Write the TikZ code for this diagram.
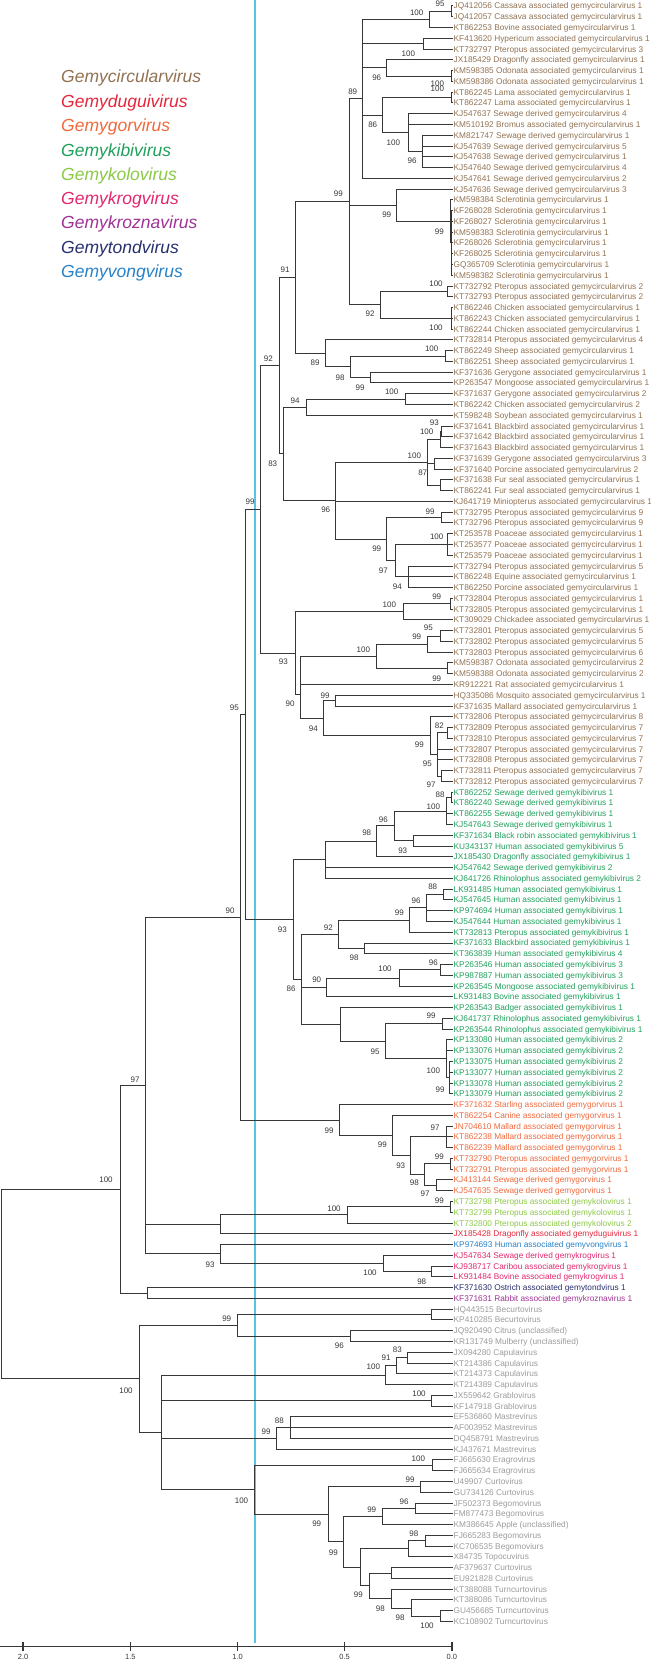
\documentclass[tikz,border=0pt]{standalone}
\usepackage{fontspec}
\setmainfont{Liberation Sans}
\usetikzlibrary{calc}
\definecolor{brc}{RGB}{55,55,55}
\definecolor{cCirc}{RGB}{145,114,82}
\definecolor{cDug}{RGB}{228,38,60}
\definecolor{cGor}{RGB}{240,105,60}
\definecolor{cKibi}{RGB}{32,160,92}
\definecolor{cKolo}{RGB}{140,200,70}
\definecolor{cKrog}{RGB}{225,40,110}
\definecolor{cKrz}{RGB}{160,50,150}
\definecolor{cTond}{RGB}{40,48,110}
\definecolor{cVong}{RGB}{40,130,200}
\definecolor{cOut}{RGB}{155,155,155}
\definecolor{cyanl}{RGB}{90,195,225}
\tikzset{
  br/.style={line width=1pt, draw=brc, line cap=rect},
  lab/.style={anchor=base west, inner sep=0pt, xshift=1.5pt, yshift=-3pt, font=\fontsize{8.3}{9}\selectfont},
  bsl/.style={inner sep=0pt, text=brc, font=\fontsize{8}{9}\selectfont},
  leg/.style={anchor=base west, inner sep=0pt, font=\fontsize{17.5}{19}\selectfont\itshape},
  scl/.style={inner sep=0pt, text=brc, font=\fontsize{7.5}{8}\selectfont}
}
\newcommand\leaf[3]{\coordinate (L#1) at (452,{6+(#1-1)*10.77}); \node[lab,text=#2] (T#1) at (L#1) {#3};}
\newcommand\clade[3]{%
  \gdef\cfirst{}%
  \foreach \ch in {#3}{\ifx\cfirst\empty\xdef\cfirst{\ch}\fi\xdef\clast{\ch}}%
  \path let \p1=(\cfirst), \p2=(\clast) in ({#2},{0.5*\y1+0.5*\y2}) coordinate (#1);
  \draw[br] (#1 |- \cfirst) -- (#1 |- \clast);
  \foreach \ch in {#3}{\draw[br] (#1 |- \ch) -- (\ch);}%
}
\newcount\bsn
\newcommand\bs[3]{\global\advance\bsn by 1 \node[bsl] (bs\the\bsn) at (#1,#2) {#3};}
\begin{document}
\begin{tikzpicture}[x=1pt,y=-1pt]
\useasboundingbox (0,0) rectangle (650,1661);
% cyan line
\coordinate (cy0) at (255,0); \coordinate (cy1) at (255,1643);
\draw[cyanl, line width=1.8pt] (cy0) -- (cy1);
% legend
\node[leg,text=cCirc] (g1) at (61,83) {Gemycircularvirus};
\node[leg,text=cDug] (g2) at (61,107.5) {Gemyduguivirus};
\node[leg,text=cGor] (g3) at (61,132) {Gemygorvirus};
\node[leg,text=cKibi] (g4) at (61,156.5) {Gemykibivirus};
\node[leg,text=cKolo] (g5) at (61,181) {Gemykolovirus};
\node[leg,text=cKrog] (g6) at (61,205) {Gemykrogvirus};
\node[leg,text=cKrz] (g7) at (61,229) {Gemykroznavirus};
\node[leg,text=cTond] (g8) at (61,253.5) {Gemytondvirus};
\node[leg,text=cVong] (g9) at (61,278) {Gemyvongvirus};
% leaves
\leaf{1}{cCirc}{JQ412056 Cassava associated gemycircularvirus 1}
\leaf{2}{cCirc}{JQ412057 Cassava associated gemycircularvirus 1}
\leaf{3}{cCirc}{KT862253 Bovine associated gemycircularvirus 1}
\leaf{4}{cCirc}{KF413620 Hypericum associated gemycircularvirus 1}
\leaf{5}{cCirc}{KT732797 Pteropus associated gemycircularvirus 3}
\leaf{6}{cCirc}{JX185429 Dragonfly associated gemycircularvirus 1}
\leaf{7}{cCirc}{KM598385 Odonata associated gemycircularvirus 1}
\leaf{8}{cCirc}{KM598386 Odonata associated gemycircularvirus 1}
\leaf{9}{cCirc}{KT862245 Lama associated gemycircularvirus 1}
\leaf{10}{cCirc}{KT862247 Lama associated gemycircularvirus 1}
\leaf{11}{cCirc}{KJ547637 Sewage derived gemycircularvirus 4}
\leaf{12}{cCirc}{KM510192 Bromus associated gemycircularvirus 1}
\leaf{13}{cCirc}{KM821747 Sewage derived gemycircularvirus 1}
\leaf{14}{cCirc}{KJ547639 Sewage derived gemycircularvirus 5}
\leaf{15}{cCirc}{KJ547638 Sewage derived gemycircularvirus 1}
\leaf{16}{cCirc}{KJ547640 Sewage derived gemycircularvirus 4}
\leaf{17}{cCirc}{KJ547641 Sewage derived gemycircularvirus 2}
\leaf{18}{cCirc}{KJ547636 Sewage derived gemycircularvirus 3}
\leaf{19}{cCirc}{KM598384 Sclerotinia gemycircularvirus 1}
\leaf{20}{cCirc}{KF268028 Sclerotinia gemycircularvirus 1}
\leaf{21}{cCirc}{KF268027 Sclerotinia gemycircularvirus 1}
\leaf{22}{cCirc}{KM598383 Sclerotinia gemycircularvirus 1}
\leaf{23}{cCirc}{KF268026 Sclerotinia gemycircularvirus 1}
\leaf{24}{cCirc}{KF268025 Sclerotinia gemycircularvirus 1}
\leaf{25}{cCirc}{GQ365709 Sclerotinia gemycircularvirus 1}
\leaf{26}{cCirc}{KM598382 Sclerotinia gemycircularvirus 1}
\leaf{27}{cCirc}{KT732792 Pteropus associated gemycircularvirus 2}
\leaf{28}{cCirc}{KT732793 Pteropus associated gemycircularvirus 2}
\leaf{29}{cCirc}{KT862246 Chicken associated gemycircularvirus 1}
\leaf{30}{cCirc}{KT862243 Chicken associated gemycircularvirus 1}
\leaf{31}{cCirc}{KT862244 Chicken associated gemycircularvirus 1}
\leaf{32}{cCirc}{KT732814 Pteropus associated gemycircularvirus 4}
\leaf{33}{cCirc}{KT862249 Sheep associated gemycircularvirus 1}
\leaf{34}{cCirc}{KT862251 Sheep associated gemycircularvirus 1}
\leaf{35}{cCirc}{KF371636 Gerygone associated gemycircularvirus 1}
\leaf{36}{cCirc}{KP263547 Mongoose associated gemycircularvirus 1}
\leaf{37}{cCirc}{KF371637 Gerygone associated gemycircularvirus 2}
\leaf{38}{cCirc}{KT862242 Chicken associated gemycircularvirus 2}
\leaf{39}{cCirc}{KT598248 Soybean associated gemycircularvirus 1}
\leaf{40}{cCirc}{KF371641 Blackbird associated gemycircularvirus 1}
\leaf{41}{cCirc}{KF371642 Blackbird associated gemycircularvirus 1}
\leaf{42}{cCirc}{KF371643 Blackbird associated gemycircularvirus 1}
\leaf{43}{cCirc}{KF371639 Gerygone associated gemycircularvirus 3}
\leaf{44}{cCirc}{KF371640 Porcine associated gemycircularvirus 2}
\leaf{45}{cCirc}{KF371638 Fur seal associated gemycircularvirus 1}
\leaf{46}{cCirc}{KT862241 Fur seal associated gemycircularvirus 1}
\leaf{47}{cCirc}{KJ641719 Miniopterus associated gemycircularvirus 1}
\leaf{48}{cCirc}{KT732795 Pteropus associated gemycircularvirus 9}
\leaf{49}{cCirc}{KT732796 Pteropus associated gemycircularvirus 9}
\leaf{50}{cCirc}{KT253578 Poaceae associated gemycircularvirus 1}
\leaf{51}{cCirc}{KT253577 Poaceae associated gemycircularvirus 1}
\leaf{52}{cCirc}{KT253579 Poaceae associated gemycircularvirus 1}
\leaf{53}{cCirc}{KT732794 Pteropus associated gemycircularvirus 5}
\leaf{54}{cCirc}{KT862248 Equine associated gemycircularvirus 1}
\leaf{55}{cCirc}{KT862250 Porcine associated gemycircularvirus 1}
\leaf{56}{cCirc}{KT732804 Pteropus associated gemycircularvirus 1}
\leaf{57}{cCirc}{KT732805 Pteropus associated gemycircularvirus 1}
\leaf{58}{cCirc}{KT309029 Chickadee associated gemycircularvirus 1}
\leaf{59}{cCirc}{KT732801 Pteropus associated gemycircularvirus 5}
\leaf{60}{cCirc}{KT732802 Pteropus associated gemycircularvirus 5}
\leaf{61}{cCirc}{KT732803 Pteropus associated gemycircularvirus 6}
\leaf{62}{cCirc}{KM598387 Odonata associated gemycircularvirus 2}
\leaf{63}{cCirc}{KM598388 Odonata associated gemycircularvirus 2}
\leaf{64}{cCirc}{KR912221 Rat associated gemycircularvirus 1}
\leaf{65}{cCirc}{HQ335086 Mosquito associated gemycircularvirus 1}
\leaf{66}{cCirc}{KF371635 Mallard associated gemycircularvirus 1}
\leaf{67}{cCirc}{KT732806 Pteropus associated gemycircularvirus 8}
\leaf{68}{cCirc}{KT732809 Pteropus associated gemycircularvirus 7}
\leaf{69}{cCirc}{KT732810 Pteropus associated gemycircularvirus 7}
\leaf{70}{cCirc}{KT732807 Pteropus associated gemycircularvirus 7}
\leaf{71}{cCirc}{KT732808 Pteropus associated gemycircularvirus 7}
\leaf{72}{cCirc}{KT732811 Pteropus associated gemycircularvirus 7}
\leaf{73}{cCirc}{KT732812 Pteropus associated gemycircularvirus 7}
\leaf{74}{cKibi}{KT862252 Sewage derived gemykibivirus 1}
\leaf{75}{cKibi}{KT862240 Sewage derived gemykibivirus 1}
\leaf{76}{cKibi}{KT862255 Sewage derived gemykibivirus 1}
\leaf{77}{cKibi}{KJ547643 Sewage derived gemykibivirus 1}
\leaf{78}{cKibi}{KF371634 Black robin associated gemykibivirus 1}
\leaf{79}{cKibi}{KU343137 Human associated gemykibivirus 5}
\leaf{80}{cKibi}{JX185430 Dragonfly associated gemykibivirus 1}
\leaf{81}{cKibi}{KJ547642 Sewage derived gemykibivirus 2}
\leaf{82}{cKibi}{KJ641726 Rhinolophus associated gemykibivirus 2}
\leaf{83}{cKibi}{LK931485 Human associated gemykibivirus 1}
\leaf{84}{cKibi}{KJ547645 Human associated gemykibivirus 1}
\leaf{85}{cKibi}{KP974694 Human associated gemykibivirus 1}
\leaf{86}{cKibi}{KJ547644 Human associated gemykibivirus 1}
\leaf{87}{cKibi}{KT732813 Pteropus associated gemykibivirus 1}
\leaf{88}{cKibi}{KF371633 Blackbird associated gemykibivirus 1}
\leaf{89}{cKibi}{KT363839 Human associated gemykibivirus 4}
\leaf{90}{cKibi}{KP263546 Human associated gemykibivirus 3}
\leaf{91}{cKibi}{KP987887 Human associated gemykibivirus 3}
\leaf{92}{cKibi}{KP263545 Mongoose associated gemykibivirus 1}
\leaf{93}{cKibi}{LK931483 Bovine associated gemykibivirus 1}
\leaf{94}{cKibi}{KP263543 Badger associated gemykibivirus 1}
\leaf{95}{cKibi}{KJ641737 Rhinolophus associated gemykibivirus 1}
\leaf{96}{cKibi}{KP263544 Rhinolophus associated gemykibivirus 1}
\leaf{97}{cKibi}{KP133080 Human associated gemykibivirus 2}
\leaf{98}{cKibi}{KP133076 Human associated gemykibivirus 2}
\leaf{99}{cKibi}{KP133075 Human associated gemykibivirus 2}
\leaf{100}{cKibi}{KP133077 Human associated gemykibivirus 2}
\leaf{101}{cKibi}{KP133078 Human associated gemykibivirus 2}
\leaf{102}{cKibi}{KP133079 Human associated gemykibivirus 2}
\leaf{103}{cGor}{KF371632 Starling associated gemygorvirus 1}
\leaf{104}{cGor}{KT862254 Canine associated gemygorvirus 1}
\leaf{105}{cGor}{JN704610 Mallard associated gemygorvirus 1}
\leaf{106}{cGor}{KT862238 Mallard associated gemygorvirus 1}
\leaf{107}{cGor}{KT862239 Mallard associated gemygorvirus 1}
\leaf{108}{cGor}{KT732790 Pteropus associated gemygorvirus 1}
\leaf{109}{cGor}{KT732791 Pteropus associated gemygorvirus 1}
\leaf{110}{cGor}{KJ413144 Sewage derived gemygorvirus 1}
\leaf{111}{cGor}{KJ547635 Sewage derived gemygorvirus 1}
\leaf{112}{cKolo}{KT732798 Pteropus associated gemykolovirus 1}
\leaf{113}{cKolo}{KT732799 Pteropus associated gemykolovirus 1}
\leaf{114}{cKolo}{KT732800 Pteropus associated gemykolovirus 2}
\leaf{115}{cDug}{JX185428 Dragonfly associated gemyduguivirus 1}
\leaf{116}{cVong}{KP974693 Human associated gemyvongvirus 1}
\leaf{117}{cKrog}{KJ547634 Sewage derived gemykrogvirus 1}
\leaf{118}{cKrog}{KJ938717 Caribou associated gemykrogvirus 1}
\leaf{119}{cKrog}{LK931484 Bovine associated gemykrogvirus 1}
\leaf{120}{cTond}{KF371630 Ostrich associated gemytondvirus 1}
\leaf{121}{cKrz}{KF371631 Rabbit associated gemykroznavirus 1}
\leaf{122}{cOut}{HQ443515 Becurtovirus}
\leaf{123}{cOut}{KP410285 Becurtovirus}
\leaf{124}{cOut}{JQ920490 Citrus (unclassified)}
\leaf{125}{cOut}{KR131749 Mulberry (unclassified)}
\leaf{126}{cOut}{JX094280 Capulavirus}
\leaf{127}{cOut}{KT214386 Capulavirus}
\leaf{128}{cOut}{KT214373 Capulavirus}
\leaf{129}{cOut}{KT214389 Capulavirus}
\leaf{130}{cOut}{JX559642 Grablovirus}
\leaf{131}{cOut}{KF147918 Grablovirus}
\leaf{132}{cOut}{EF536860 Mastrevirus}
\leaf{133}{cOut}{AF003952 Mastrevirus}
\leaf{134}{cOut}{DQ458791 Mastrevirus}
\leaf{135}{cOut}{KJ437671 Mastrevirus}
\leaf{136}{cOut}{FJ665630 Eragrovirus}
\leaf{137}{cOut}{FJ665634 Eragrovirus}
\leaf{138}{cOut}{U49907 Curtovirus}
\leaf{139}{cOut}{GU734126 Curtovirus}
\leaf{140}{cOut}{JF502373 Begomovirus}
\leaf{141}{cOut}{FM877473 Begomovirus}
\leaf{142}{cOut}{KM386645 Apple (unclassified)}
\leaf{143}{cOut}{FJ665283 Begomovirus}
\leaf{144}{cOut}{KC706535 Begomoviurs}
\leaf{145}{cOut}{X84735 Topocuvirus}
\leaf{146}{cOut}{AF379637 Curtovirus}
\leaf{147}{cOut}{EU921828 Curtovirus}
\leaf{148}{cOut}{KT388088 Turncurtovirus}
\leaf{149}{cOut}{KT388086 Turncurtovirus}
\leaf{150}{cOut}{GU456685 Turncurtovirus}
\leaf{151}{cOut}{KC108902 Turncurtovirus}
% ---- gemycircularvirus
\clade{a12}{451}{L1,L2}
\clade{a123}{429}{a12,L3}
\clade{a45}{423.3}{L4,L5}
\clade{a78}{451}{L7,L8}
\clade{a678}{386.7}{L6,a78}
\clade{a910}{451}{L9,L10}
\clade{dd1}{422.7}{L13,L14,L15,L16}
\clade{cc1}{408.3}{L11,L12,dd1}
\clade{bb1}{382.7}{a910,cc1}
\clade{N1}{362.7}{a123,a45,a678,bb1,L17}
\clade{h2}{451}{L20,L21,L22,L23,L24,L25,L26}
\clade{h1}{450}{L19,h2}
\clade{f1}{396.7}{L18,h1}
\clade{g1a}{447.7}{L27,L28}
\clade{g1b}{451}{L29,L30,L31}
\clade{g1}{380}{g1a,g1b}
\clade{N0}{349.3}{N1,f1,g1}
\clade{k1}{445}{L33,L34}
\clade{l1}{370.7}{L35,L36}
\clade{j1}{350}{k1,l1}
\clade{i1}{325.7}{L32,j1}
\clade{P91}{295.7}{N0,i1}
\clade{q1}{405.7}{L37,L38}
\clade{n1}{306.7}{q1,L39}
\clade{r11}{441}{L40,L41}
\clade{r1}{440}{r11,L42}
\clade{r2}{434.3}{L43,L44}
\clade{r3}{440}{L45,L46}
\clade{r0}{427.7}{r1,r2,r3}
\clade{t1}{441}{L48,L49}
\clade{v1}{447}{L50,L51,L52}
\clade{w1}{408.3}{L53,L54,L55}
\clade{u1}{395.7}{v1,w1}
\clade{s1}{386.7}{t1,u1}
\clade{o1}{335}{r0,L47,s1}
\clade{p1}{283.3}{n1,o1}
\clade{m1}{279}{P91,p1}
\clade{z12}{450}{L56,L57}
\clade{z1}{403.3}{z12,L58}
\clade{c12}{440}{L59,L60}
\clade{cc2}{427.7}{c12,L61}
\clade{dd2}{447.7}{L62,L63}
\clade{aa2}{376.7}{cc2,dd2}
\clade{bb2}{300.5}{aa2,L64}
\clade{gg2}{335}{L65,L66}
\clade{ii1}{447.7}{L68,L69}
\clade{ii2}{441}{L72,L73}
\clade{ii0}{437.3}{ii1,L70,L71,ii2}
\clade{hh0}{430}{L67,ii0}
\clade{ee0}{323.3}{gg2,hh0}
\clade{ff0}{300}{bb2,ee0}
\clade{x93}{295}{z1,ff0}
\clade{yy0}{260.7}{m1,x93}
% ---- gemykibivirus
\clade{k7475}{451}{L74,L75}
\clade{k1111}{446}{k7475,L76,L77}
\clade{k1112}{413.3}{L78,L79}
\clade{k111}{394.3}{k1111,k1112}
\clade{k11}{376.7}{k111,L80}
\clade{kb1}{325.7}{k11,L81,L82}
\clade{k8384}{443.3}{L83,L84}
\clade{k2111}{426.7}{k8384,L85,L86}
\clade{k211}{409.3}{k2111,L87}
\clade{k212}{364.3}{L88,L89}
\clade{k21}{338.3}{k211,k212}
\clade{q9091}{440}{L90,L91}
\clade{qq0}{399.3}{q9091,L92}
\clade{rr0}{326.7}{qq0,L93}
\clade{k2211}{442.7}{L95,L96}
\clade{kS}{449.3}{L99,L100,L101,L102}
\clade{k2212}{446.7}{L97,L98,kS}
\clade{k221}{385.7}{k2211,k2212}
\clade{k22}{340}{L94,k221}
\clade{kb2}{301.7}{k21,rr0,k22}
\clade{kk0}{293.3}{kb1,kb2}
\clade{zz0}{245}{yy0,kk0}
% ---- gemygorvirus
\clade{g111}{446}{L105,L106,L107}
\clade{g1121}{450}{L108,L109}
\clade{g1122}{436}{L110,L111}
\clade{g112}{424.3}{g1121,g1122}
\clade{g11}{410}{g111,g112}
\clade{gg1}{392.3}{L104,g11}
\clade{gor}{339.3}{L103,gg1}
\clade{ww0}{240}{zz0,gor}
% ---- others
\clade{ko1}{450}{L112,L113}
\clade{ko0}{347.3}{ko1,L114}
\clade{kd0}{220.3}{ko0,L115}
\clade{kr1}{431.7}{L118,L119}
\clade{kr0}{383.3}{L117,kr1}
\clade{vk0}{220.3}{L116,kr0}
\clade{x97}{145}{ww0,kd0,vk0}
\clade{tk0}{147.3}{L120,L121}
\clade{x100}{120}{x97,tk0}
% ---- outgroup
\clade{b1}{431.7}{L122,L123}
\clade{b2}{350}{L124,L125}
\clade{bu}{237.3}{b1,b2}
\clade{cp1a}{407.7}{L126,L127}
\clade{cp1}{396.7}{cp1a,L128}
\clade{cp0}{385.7}{cp1,L129}
\clade{gr0}{431}{L130,L131}
\clade{ma1}{290}{L132,L133,L134}
\clade{ma0}{276.7}{ma1,L135}
\clade{er0}{432.3}{L136,L137}
\clade{cu1}{420.7}{L138,L139}
\clade{be1}{415}{L140,L141}
\clade{be0}{382.3}{be1,L142}
\clade{ct1a}{425}{L143,L144}
\clade{ct1}{408.3}{ct1a,L145}
\clade{ct2a}{391.7}{L146,L147}
\clade{ct4a}{440.8}{L150,L151}
\clade{ct4}{411.7}{L149,ct4a}
\clade{ct3}{391.7}{L148,ct4}
\clade{ct2}{369.6}{ct2a,ct3}
\clade{ct0}{360.4}{ct1,ct2}
\clade{cu2}{343}{be0,ct0}
\clade{cu0}{328.3}{cu1,cu2}
\clade{ee2}{254.3}{er0,cu0}
\clade{o2}{161.7}{cp0,gr0,ma0,ee2}
\clade{out}{139.3}{bu,o2}
\clade{root}{1.7}{x100,out}
% ---- bootstrap values
\bs{440}{3.5}{95}
\bs{416.7}{12.7}{100}
\bs{408.3}{53.3}{100}
\bs{376.7}{77.3}{96}
\bs{352.7}{91.7}{89}
\bs{437.3}{84}{100}
\bs{437.3}{89}{100}
\bs{372.7}{125}{86}
\bs{393.3}{142.3}{100}
\bs{412}{161}{96}
\bs{338.3}{194}{99}
\bs{386.7}{215}{99}
\bs{439.3}{231.7}{99}
\bs{285}{269.7}{91}
\bs{436}{284}{100}
\bs{370}{314}{92}
\bs{436}{328}{100}
\bs{268.3}{359}{92}
\bs{315}{363}{89}
\bs{431.7}{349}{100}
\bs{340}{377.3}{98}
\bs{360}{387.3}{99}
\bs{295}{400.7}{94}
\bs{391.7}{391.3}{100}
\bs{434.3}{423}{93}
\bs{426.7}{432}{100}
\bs{414.3}{455.3}{100}
\bs{272.7}{463.7}{83}
\bs{422.7}{473}{87}
\bs{250}{502}{99}
\bs{325.7}{509.7}{96}
\bs{430}{511.3}{99}
\bs{436.7}{536.3}{100}
\bs{376.7}{548.7}{99}
\bs{383.3}{571}{97}
\bs{397.3}{586.7}{94}
\bs{436.7}{596.7}{99}
\bs{389.3}{604.3}{100}
\bs{428.3}{627.7}{95}
\bs{416.7}{637}{99}
\bs{363.3}{649.3}{100}
\bs{283.3}{662}{93}
\bs{436.7}{678.3}{99}
\bs{325}{696}{99}
\bs{234.3}{707.7}{95}
\bs{290}{703.3}{90}
\bs{313.3}{728.3}{94}
\bs{439.3}{725.7}{82}
\bs{419.3}{745}{99}
\bs{427.3}{764}{95}
\bs{431}{785}{97}
\bs{440}{795}{88}
\bs{433.3}{806.7}{100}
\bs{383.3}{820}{96}
\bs{366.7}{832.3}{98}
\bs{402.7}{850.7}{93}
\bs{432.7}{886.3}{88}
\bs{416}{900.7}{96}
\bs{230}{910.7}{90}
\bs{399.3}{912.3}{99}
\bs{328.3}{927.3}{92}
\bs{282.3}{930}{93}
\bs{354}{958}{98}
\bs{433.3}{962.3}{96}
\bs{385}{969}{100}
\bs{316.7}{979.7}{90}
\bs{291}{989}{86}
\bs{431}{1015.7}{99}
\bs{375}{1052}{95}
\bs{433.3}{1070.3}{100}
\bs{440}{1089.7}{99}
\bs{329}{1130.3}{99}
\bs{435}{1128}{97}
\bs{382.3}{1144.7}{99}
\bs{439.3}{1156.3}{99}
\bs{400.7}{1165.3}{93}
\bs{414.3}{1183}{98}
\bs{425}{1193.7}{97}
\bs{439.3}{1200.3}{99}
\bs{334}{1208.7}{100}
\bs{210}{1265}{93}
\bs{370}{1272.7}{100}
\bs{421.7}{1281.7}{98}
\bs{226.7}{1318.5}{99}
\bs{339.3}{1346}{96}
\bs{397.3}{1349.3}{83}
\bs{386}{1357.3}{91}
\bs{373.3}{1366.7}{100}
\bs{419}{1394}{100}
\bs{279.3}{1420.7}{88}
\bs{266}{1431.7}{99}
\bs{418.3}{1458.3}{100}
\bs{410}{1479.3}{99}
\bs{241.5}{1501}{100}
\bs{404}{1501.7}{96}
\bs{371.7}{1509.3}{99}
\bs{316.7}{1523.3}{99}
\bs{413.8}{1534}{98}
\bs{333.3}{1552.3}{99}
\bs{358.3}{1595}{99}
\bs{380.4}{1608.3}{98}
\bs{400}{1617.3}{98}
\bs{427}{1625.7}{100}
\bs{135}{1080}{97}
\bs{106}{1180}{100}
\bs{126}{1391}{100}
% ---- scale bar
\coordinate (sb0) at (0,1646.5);
\coordinate (sb1) at (452.5,1646.5);
\draw[brc, line width=1.3pt] (sb0) -- (sb1);
\foreach \xx/\tt [count=\k] in {23.2/2.0,130.4/1.5,237.5/1.0,344.6/0.5,451.8/0.0}{
  \coordinate (tk\k) at (\xx,1642);
  \coordinate (tb\k) at (\xx,1650.5);
  \draw[brc, line width=1.6pt] (tk\k) -- (tb\k);
  \node[scl] (tl\k) at (\xx,1657) {\tt};
}
\end{tikzpicture}
\end{document}
